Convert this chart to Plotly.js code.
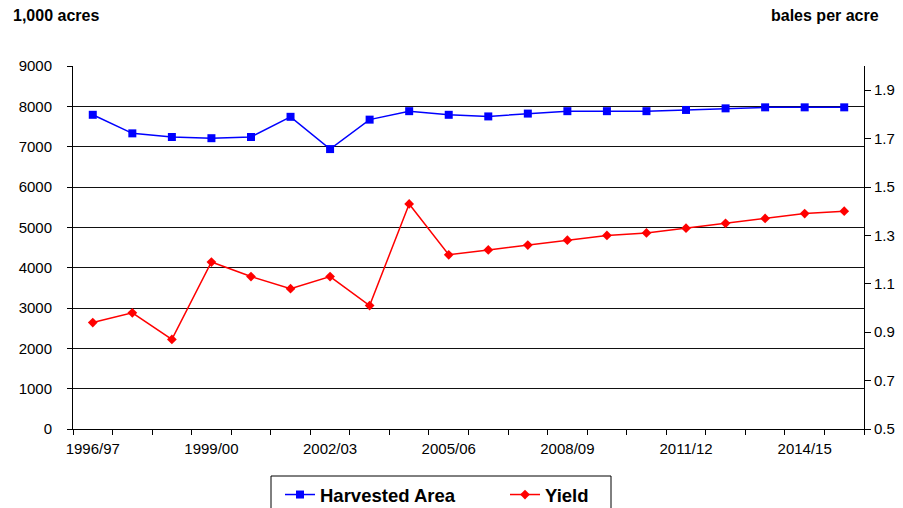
<!DOCTYPE html>
<html>
<head>
<meta charset="utf-8">
<script src="https://cdn.plot.ly/plotly-3.0.1.min.js"></script>
<style>
  html, body { margin: 0; padding: 0; background: #fff; }
  #chart { width: 903px; height: 508px; }
</style>
</head>
<body>
<div id="chart"></div>
<script>
// Marketing years, one point per year
const years = ['1996/97', '1997/98', '1998/99', '1999/00', '2000/01', '2001/02', '2002/03',
    '2003/04', '2004/05', '2005/06', '2006/07', '2007/08', '2008/09', '2009/10',
    '2010/11', '2011/12', '2012/13', '2013/14', '2014/15', '2015/16'];

// Harvested area, 1,000 acres (left axis)
const harvestedArea = [7790, 7330, 7240, 7210, 7240, 7740, 6940, 7670, 7880, 7790,
    7750, 7820, 7880, 7880, 7880, 7910, 7950, 7975, 7975, 7975];

// Yield, bales per acre (right axis)
const yieldValues = [0.94, 0.98, 0.87, 1.19, 1.13, 1.08, 1.13, 1.01, 1.43, 1.22,
    1.24, 1.26, 1.28, 1.30, 1.31, 1.33, 1.35, 1.37, 1.39, 1.40];

// Only every third year gets a label
const labelYears = ['1996/97', '1999/00', '2002/03', '2005/06', '2008/09', '2011/12', '2014/15'];

const xIdx = years.map((_, i) => i);
const labelIdx = labelYears.map(y => years.indexOf(y));

const fontFamily = 'Liberation Sans, Arial, sans-serif';
const baseFont = { family: fontFamily, size: 15, color: '#000' };

const traces = [
    {
        x: xIdx,
        y: harvestedArea,
        name: 'Harvested Area',
        type: 'scatter',
        mode: 'lines+markers',
        line: { color: '#0000FF', width: 1.5 },
        marker: { symbol: 'square', size: 8, color: '#0000FF' },
        yaxis: 'y'
    },
    {
        x: xIdx,
        y: yieldValues,
        name: 'Yield',
        type: 'scatter',
        mode: 'lines+markers',
        line: { color: '#FF0000', width: 1.5 },
        marker: { symbol: 'diamond', size: 7.5, color: '#FF0000' },
        yaxis: 'y2'
    }
];

const layout = {
    width: 903,
    height: 508,
    margin: { l: 73, r: 39, t: 66, b: 79 },
    paper_bgcolor: '#fff',
    plot_bgcolor: '#fff',
    font: baseFont,
    showlegend: true,
    // legend placed against the container so it doesn't shrink the plot area
    legend: {
        orientation: 'h',
        xref: 'container',
        yref: 'container',
        x: 280 / 903,
        xanchor: 'left',
        y: 1 - 476 / 508,
        yanchor: 'top',
        bgcolor: 'rgba(0,0,0,0)',
        borderwidth: 0,
        font: { family: fontFamily, size: 18.5, color: '#000', weight: 'bold' },
        entrywidth: 180
    },
    xaxis: {
        range: [-0.5, 19.5],
        tickmode: 'array',
        tickvals: labelIdx,
        ticktext: labelYears,
        ticks: '',
        ticklabelstandoff: 6,
        showgrid: false,
        zeroline: false,
        showline: true,
        linecolor: '#000',
        linewidth: 1,
        fixedrange: true,
        minor: {
            tickmode: 'linear',
            tick0: -0.5,
            dtick: 1,
            ticks: 'outside',
            ticklen: 5,
            tickcolor: '#000',
            showgrid: false
        }
    },
    yaxis: {
        range: [0, 9000],
        tickmode: 'linear',
        tick0: 0,
        dtick: 1000,
        ticks: 'outside',
        ticklen: 5,
        tickcolor: '#000',
        ticklabelstandoff: 12,
        showgrid: true,
        gridcolor: '#111',
        gridwidth: 1,
        zeroline: false,
        showline: true,
        linecolor: '#000',
        linewidth: 1,
        fixedrange: true
    },
    yaxis2: {
        overlaying: 'y',
        side: 'right',
        range: [0.5, 2.0],
        tickmode: 'linear',
        tick0: 0.5,
        dtick: 0.2,
        tickformat: '.1f',
        ticks: 'outside',
        ticklen: 6,
        tickcolor: '#000',
        showgrid: false,
        zeroline: false,
        showline: true,
        linecolor: '#000',
        linewidth: 1,
        fixedrange: true
    },
    // legend frame, cut by the bottom edge like in the original
    shapes: [
        {
            type: 'rect',
            xref: 'paper', yref: 'paper',
            x0: (271 - 73) / 791, x1: (611 - 73) / 791,
            y0: (429 - 476) / 363, y1: (429 - 520) / 363,
            line: { color: '#000', width: 1 },
            fillcolor: 'rgba(0,0,0,0)'
        }
    ],
    annotations: [
        {
            text: '1,000 acres',
            xref: 'paper', yref: 'paper',
            x: -0.078, y: (429 - 15) / 363,
            xanchor: 'left', yanchor: 'middle',
            showarrow: false,
            font: { family: fontFamily, size: 16, color: '#000', weight: 'bold' }
        },
        {
            text: 'bales per acre',
            xref: 'paper', yref: 'paper',
            x: 1.022, y: (429 - 15) / 363,
            xanchor: 'right', yanchor: 'middle',
            showarrow: false,
            font: { family: fontFamily, size: 16, color: '#000', weight: 'bold' }
        }
    ]
};

const config = { displayModeBar: false, staticPlot: true };

Plotly.newPlot('chart', traces, layout, config);
</script>
</body>
</html>
